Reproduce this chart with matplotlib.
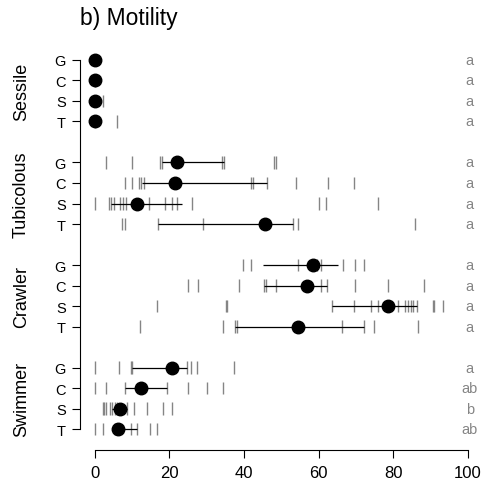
import numpy as np
import matplotlib
matplotlib.use("Agg")
import matplotlib.pyplot as plt

plt.rcParams['font.family'] = ['Liberation Sans', 'DejaVu Sans']

# --- data ---
groups = ['Sessile', 'Tubicolous', 'Crawler', 'Swimmer']
rows = ['G', 'C', 'S', 'T']

# individual observations (rug ticks), per group, rows G, C, S, T
sessile_obs = [[0, 0], [0, 0], [0, 0, 2.1], [0, 5.8]]
tubicolous_obs = [
    [2.9, 10.0, 17.4, 18.0, 34.0, 34.7, 48.1, 48.5],
    [8.0, 10.0, 11.8, 12.3, 13.3, 41.8, 42.4, 46.1, 53.9, 62.5, 69.6],
    [0.0, 3.8, 4.3, 5.1, 6.7, 7.6, 8.3, 14.6, 18.8, 20.6, 21.9, 26.1, 60.2, 62.0, 76.0],
    [7.3, 8.1, 16.8, 29.1, 53.2, 54.6, 86.0],
]
crawler_obs = [
    [39.6, 41.8, 54.6, 59.7, 60.6, 66.6, 69.8, 72.3],
    [25.0, 27.6, 38.6, 45.4, 45.9, 48.6, 60.6, 62.3, 69.8, 78.5, 88.4],
    [16.7, 35.1, 35.5, 63.6, 69.5, 74.0, 76.0, 81.4, 83.1, 83.9, 84.7, 85.4, 86.3, 90.6, 91.0, 93.5],
    [12.0, 34.3, 37.6, 38.0, 66.2, 72.2, 75.0, 86.6],
]
swimmer_obs = [
    [0.0, 6.4, 9.6, 9.9, 24.6, 25.8, 27.3, 37.4],
    [0.0, 3.1, 8.0, 19.4, 25.0, 30.0, 34.3],
    [2.1, 2.4, 2.9, 4.0, 4.7, 5.4, 5.8, 8.7, 10.5, 13.9, 18.3, 20.7],
    [0.0, 2.2, 5.4, 9.6, 11.2, 14.7, 16.7],
]

# means and interval ends
sessile_mean = [0, 0, 0, 0]
sessile_lo = [0, 0, 0, 0]
sessile_hi = [0, 0, 0, 0]
tubicolous_mean = [21.9, 21.5, 11.4, 45.6]
tubicolous_lo = [18.0, 12.6, 4.3, 16.8]
tubicolous_hi = [34.7, 46.1, 23.3, 53.2]
crawler_mean = [58.6, 56.8, 78.7, 54.6]
crawler_lo = [45.2, 45.4, 63.6, 37.6]
crawler_hi = [65.1, 62.3, 86.3, 72.2]
swimmer_mean = [20.7, 12.3, 6.7, 6.3]
swimmer_lo = [9.9, 8.0, 4.7, 5.4]
swimmer_hi = [24.6, 19.4, 8.7, 11.2]

sessile_letters = ['a', 'a', 'a', 'a']
tubicolous_letters = ['a', 'a', 'a', 'a']
crawler_letters = ['a', 'a', 'a', 'a']
swimmer_letters = ['a', 'ab', 'b', 'ab']

obs = [sessile_obs, tubicolous_obs, crawler_obs, swimmer_obs]
means = [sessile_mean, tubicolous_mean, crawler_mean, swimmer_mean]
los = [sessile_lo, tubicolous_lo, crawler_lo, swimmer_lo]
his = [sessile_hi, tubicolous_hi, crawler_hi, swimmer_hi]
letters = [sessile_letters, tubicolous_letters, crawler_letters, swimmer_letters]

# --- plot ---
fig = plt.figure(figsize=(4.88, 4.89), dpi=100)
ax = fig.add_axes([0.1639, 0.0777, 0.825, 0.8354])

ytick_pos = []
ytick_lab = []
for g in range(len(groups)):
    for r in range(len(rows)):
        y = g * 5 + r
        ytick_pos.append(y)
        ytick_lab.append(rows[r])
        ax.vlines(obs[g][r], y - 0.31, y + 0.31, color='#858585', lw=1.0, zorder=1)
        ax.hlines(y, los[g][r], his[g][r], color='black', lw=0.9, zorder=2)
        ax.plot(means[g][r], y, 'o', color='black', ms=9, zorder=3)
        ax.text(100.6, y, letters[g][r], ha='center', va='center',
                fontsize=10.5, color='#858585', clip_on=False)
    ax.text(-0.145, 1 - (g * 5 + 1.5 + 0.9) / 19.92, groups[g], transform=ax.transAxes,
            rotation=90, ha='center', va='center', fontsize=13)

ax.set_xlim(-4, 104)
ax.set_ylim(19.02, -0.9)
ax.set_yticks(ytick_pos)
ax.set_yticklabels(ytick_lab, fontsize=10.5)
ax.set_xticks([0, 20, 40, 60, 80, 100])
ax.tick_params(axis='x', labelsize=12, length=6, width=0.8, pad=5)
ax.tick_params(axis='y', length=6, width=0.8, pad=4)
for s in ['top', 'right']:
    ax.spines[s].set_visible(False)
ax.spines['left'].set_bounds(0, 18)
ax.spines['bottom'].set_bounds(0, 100)
ax.spines['left'].set_linewidth(0.8)
ax.spines['bottom'].set_linewidth(0.8)

fig.text(0.164, 0.963, 'b) Motility', fontsize=16.5, ha='left', va='center')

fig.savefig('out.png', dpi=100)
